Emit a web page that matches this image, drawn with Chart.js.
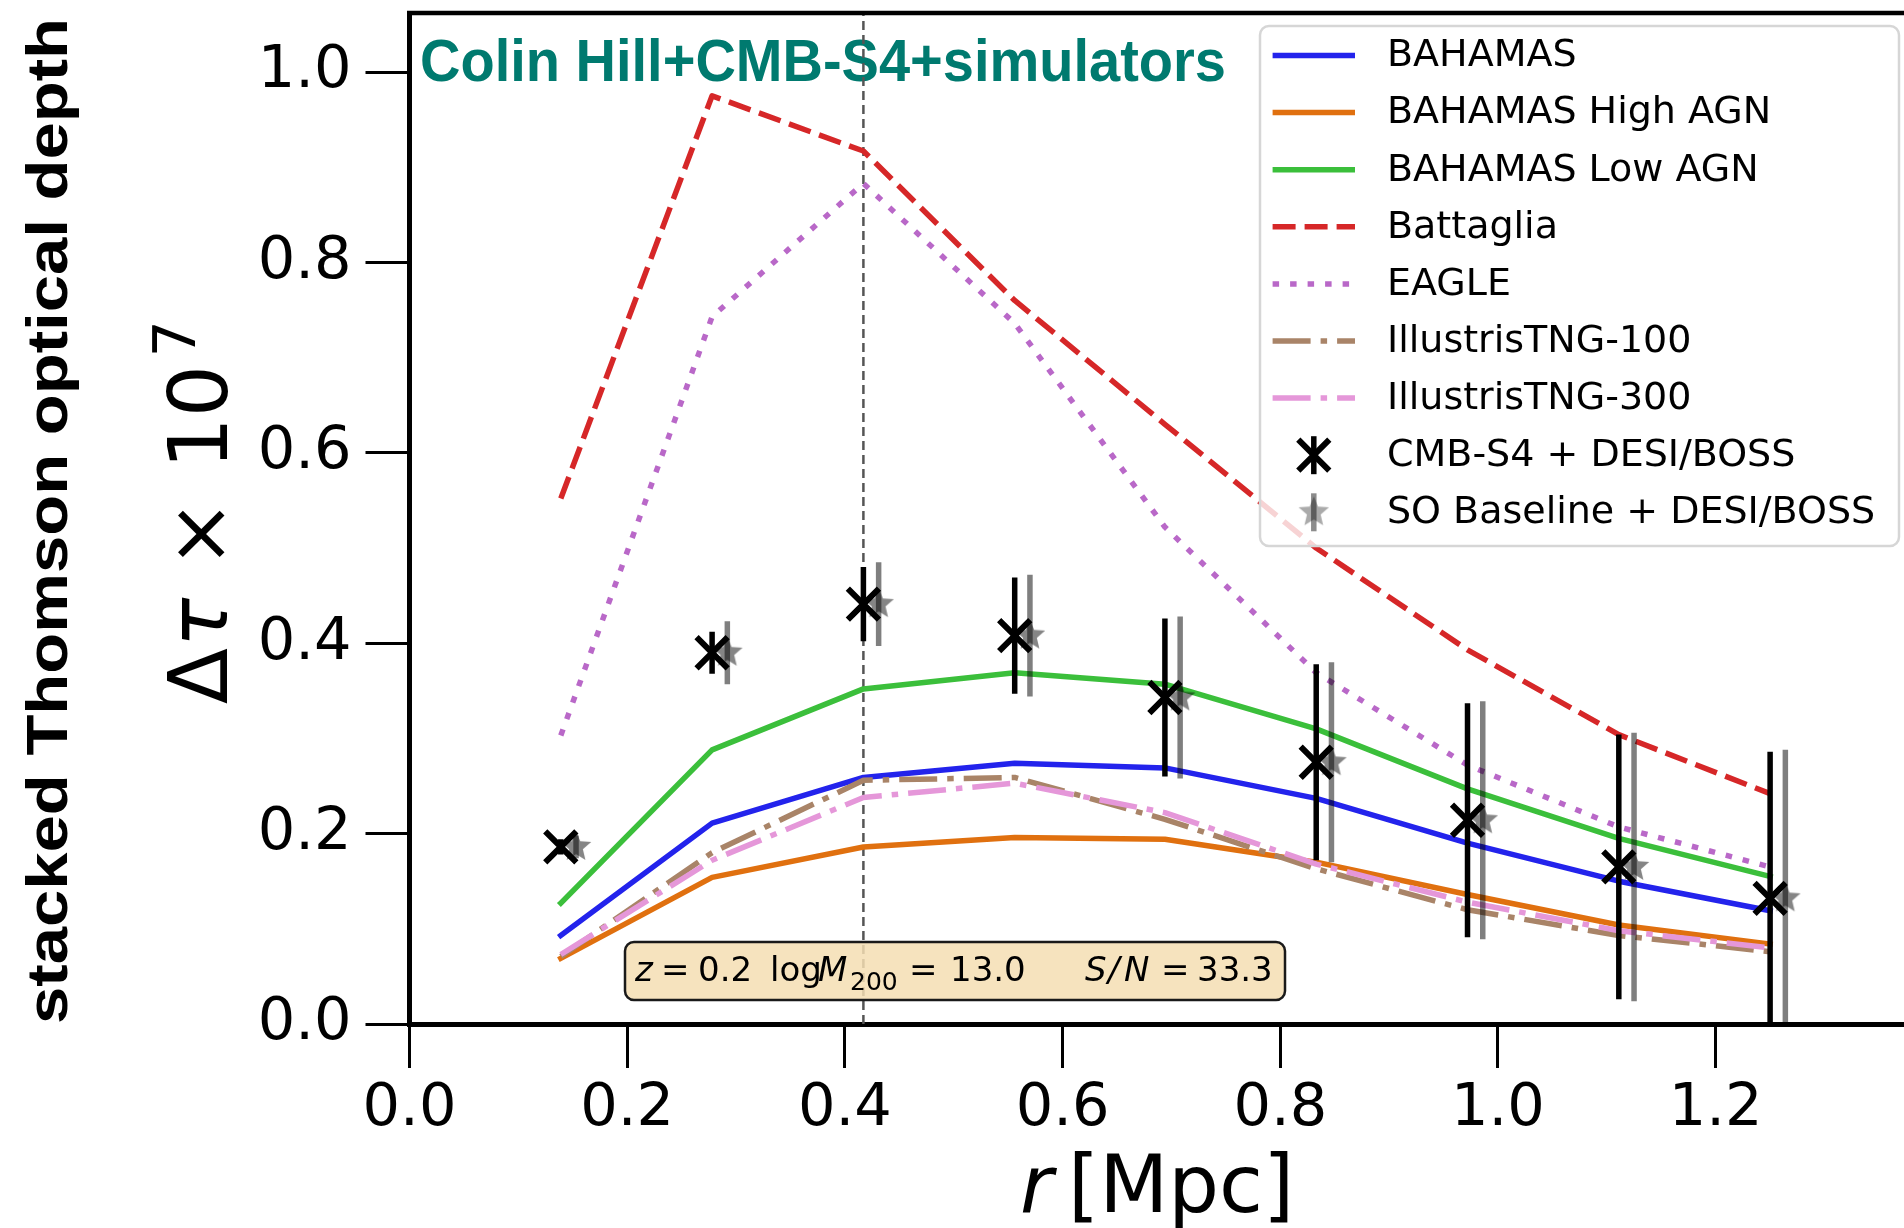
<!DOCTYPE html>
<html>
<head>
<meta charset="utf-8">
<title>Stacked Thomson optical depth</title>
<script src="https://cdn.jsdelivr.net/npm/chart.js@4.4.1/dist/chart.umd.min.js"></script>
<style>
  html, body { margin: 0; padding: 0; background: #fff; overflow: hidden; }
  canvas { display: block; }
</style>
</head>
<body>
<canvas id="tauChart" width="1904" height="1228"></canvas>
<script>
// radial bins [Mpc]
const rBins = [0.139, 0.278, 0.417, 0.556, 0.694, 0.833, 0.972, 1.111, 1.25];
const rBinsSO = [0.153, 0.292, 0.431, 0.570, 0.708, 0.847, 0.986, 1.125, 1.264];

// simulated profiles, delta tau x 1e7
const bahamas = [0.093, 0.211, 0.259, 0.274, 0.269, 0.237, 0.190, 0.150, 0.119];
const bahamasHighAGN = [0.069, 0.154, 0.186, 0.196, 0.194, 0.170, 0.136, 0.104, 0.084];
const bahamasLowAGN = [0.127, 0.288, 0.352, 0.369, 0.357, 0.310, 0.247, 0.195, 0.155];
const battaglia = [0.552, 0.975, 0.917, 0.760, 0.630, 0.500, 0.393, 0.304, 0.242];
const eagle = [0.303, 0.743, 0.883, 0.736, 0.522, 0.369, 0.272, 0.207, 0.165];
const tng100 = [0.071, 0.180, 0.256, 0.259, 0.215, 0.163, 0.120, 0.093, 0.076];
const tng300 = [0.073, 0.172, 0.238, 0.253, 0.222, 0.168, 0.128, 0.098, 0.080];

// forecast measurements
const cmbS4Tau = [0.186, 0.390, 0.441, 0.408, 0.343, 0.275, 0.214, 0.165, 0.132];
const cmbS4Err = [0.008, 0.022, 0.039, 0.061, 0.083, 0.103, 0.123, 0.139, 0.154];
const soTau = [0.186, 0.390, 0.441, 0.408, 0.343, 0.275, 0.214, 0.165, 0.132];
const soErr = [0.012, 0.033, 0.044, 0.064, 0.085, 0.105, 0.125, 0.141, 0.156];

// reference radius marker
const rMark = [0.417];

const xTicks = [0.0, 0.2, 0.4, 0.6, 0.8, 1.0, 1.2];
const yTicks = [0.0, 0.2, 0.4, 0.6, 0.8, 1.0];
const xMax = 1.373;
const yMax = 1.062;

const FONT = "'DejaVu Sans', sans-serif";
const BOLD = "'Liberation Sans', Arial, sans-serif";

const pts = (xs, ys) => xs.map((x, i) => ({ x: x, y: ys[i] }));

function starImage(r, color) {
  const size = Math.ceil(r * 2 + 4);
  const c = document.createElement('canvas');
  c.width = c.height = size;
  const g = c.getContext('2d');
  g.translate(size / 2, size / 2);
  g.beginPath();
  for (let i = 0; i < 10; i++) {
    const rad = i % 2 ? r * 0.45 : r;
    const a = -Math.PI / 2 + i * Math.PI / 5;
    g.lineTo(rad * Math.cos(a), rad * Math.sin(a));
  }
  g.closePath();
  g.fillStyle = color;
  g.fill();
  return c;
}
const star = starImage(16, 'rgba(0,0,0,0.48)');

function profile(label, values, color, dash, order) {
  return {
    label: label,
    data: pts(rBins, values),
    showLine: true,
    borderColor: color,
    backgroundColor: color,
    borderWidth: 5.5,
    borderDash: dash,
    borderCapStyle: dash.length ? 'butt' : 'square',
    borderJoinStyle: 'round',
    pointRadius: 0,
    pointHoverRadius: 0,
    tension: 0,
    order: order
  };
}

const datasets = [
  profile('BAHAMAS', bahamas, '#2323ec', [], 8),
  profile('BAHAMAS High AGN', bahamasHighAGN, '#e0700f', [], 7),
  profile('BAHAMAS Low AGN', bahamasLowAGN, '#3bbf3b', [], 6),
  profile('Battaglia', battaglia, '#d62728', [23, 9], 5),
  profile('EAGLE', eagle, '#b968c8', [6.5, 11], 4),
  profile('IllustrisTNG-100', tng100, '#a98468', [38, 10, 6.5, 10], 3),
  profile('IllustrisTNG-300', tng300, '#e597d9', [38, 10, 6.5, 10], 2),
  {
    label: 'CMB-S4 + DESI/BOSS',
    data: pts(rBins, cmbS4Tau),
    yErr: cmbS4Err,
    errColor: '#000',
    pointStyle: 'crossRot',
    pointRadius: 22,
    pointBorderWidth: 6,
    borderColor: '#000',
    backgroundColor: '#000',
    order: 0
  },
  {
    label: 'SO Baseline + DESI/BOSS',
    data: pts(rBinsSO, soTau),
    yErr: soErr,
    errColor: 'rgba(0,0,0,0.5)',
    pointStyle: star,
    pointRadius: 16,
    borderColor: 'rgba(0,0,0,0.5)',
    backgroundColor: 'rgba(0,0,0,0.5)',
    order: 1
  },
  {
    label: '',
    legend: false,
    data: [{ x: rMark[0], y: 0 }, { x: rMark[0], y: yMax }],
    showLine: true,
    borderColor: '#555',
    borderWidth: 2.5,
    borderDash: [9, 5],
    pointRadius: 0,
    order: 20
  }
];

// vertical error bars under the markers
const errorBars = {
  id: 'errorBars',
  beforeDatasetDraw(chart, args) {
    const ds = chart.data.datasets[args.index];
    if (!ds.yErr) return;
    const { ctx, chartArea: a } = chart;
    const x = chart.scales.x, y = chart.scales.y;
    ctx.save();
    ctx.beginPath();
    ctx.rect(a.left, a.top, a.right - a.left, a.bottom - a.top);
    ctx.clip();
    ctx.strokeStyle = ds.errColor;
    ctx.lineWidth = 5.5;
    ds.data.forEach((p, i) => {
      const px = x.getPixelForValue(p.x);
      ctx.beginPath();
      ctx.moveTo(px, y.getPixelForValue(p.y - ds.yErr[i]));
      ctx.lineTo(px, y.getPixelForValue(p.y + ds.yErr[i]));
      ctx.stroke();
    });
    ctx.restore();
  }
};

function fitText(ctx, text, x, y, width, angle) {
  const w = ctx.measureText(text).width;
  ctx.save();
  ctx.translate(x, y);
  ctx.rotate(angle);
  ctx.scale(width / w, 1);
  ctx.fillText(text, 0, 0);
  ctx.restore();
}

function roundRect(ctx, x, y, w, h, r) {
  ctx.beginPath();
  ctx.moveTo(x + r, y);
  ctx.arcTo(x + w, y, x + w, y + h, r);
  ctx.arcTo(x + w, y + h, x, y + h, r);
  ctx.arcTo(x, y + h, x, y, r);
  ctx.arcTo(x, y, x + w, y, r);
  ctx.closePath();
}

function drawXMarker(ctx, cx, cy) {
  ctx.save();
  ctx.strokeStyle = '#000';
  ctx.lineWidth = 5.5;
  ctx.beginPath();
  ctx.moveTo(cx, cy - 19);
  ctx.lineTo(cx, cy + 19);
  ctx.stroke();
  ctx.lineWidth = 6;
  const d = 15.5;
  ctx.beginPath();
  ctx.moveTo(cx - d, cy - d); ctx.lineTo(cx + d, cy + d);
  ctx.moveTo(cx + d, cy - d); ctx.lineTo(cx - d, cy + d);
  ctx.stroke();
  ctx.restore();
}

function drawStarMarker(ctx, cx, cy) {
  ctx.save();
  ctx.globalAlpha = 0.7;
  ctx.drawImage(star, cx - star.width / 2, cy - star.height / 2);
  ctx.globalAlpha = 1;
  ctx.strokeStyle = 'rgba(0,0,0,0.45)';
  ctx.lineWidth = 5.5;
  ctx.beginPath();
  ctx.moveTo(cx, cy - 19);
  ctx.lineTo(cx, cy + 19);
  ctx.stroke();
  ctx.restore();
}

function drawLegend(chart) {
  const ctx = chart.ctx;
  ctx.save();
  roundRect(ctx, 1260, 26, 639, 520, 9);
  ctx.fillStyle = 'rgba(255,255,255,0.8)';
  ctx.fill();
  ctx.strokeStyle = '#d6d6d6';
  ctx.lineWidth = 2.5;
  ctx.stroke();

  const rowY = 55.5, step = 57.1, hx0 = 1272.6, hx1 = 1355, tx = 1387;
  ctx.font = `38px ${FONT}`;
  ctx.textBaseline = 'middle';
  ctx.textAlign = 'left';
  let row = 0;
  chart.data.datasets.forEach(ds => {
    if (ds.legend === false) return;
    const cy = rowY + row * step;
    if (ds.showLine) {
      ctx.save();
      ctx.strokeStyle = ds.borderColor;
      ctx.lineWidth = ds.borderWidth;
      ctx.setLineDash(ds.borderDash);
      ctx.lineCap = 'butt';
      ctx.beginPath();
      ctx.moveTo(hx0, cy);
      ctx.lineTo(hx1, cy);
      ctx.stroke();
      ctx.restore();
    } else if (ds.pointStyle === 'crossRot') {
      drawXMarker(ctx, (hx0 + hx1) / 2, cy);
    } else {
      drawStarMarker(ctx, (hx0 + hx1) / 2, cy);
    }
    ctx.fillStyle = '#000';
    ctx.fillText(ds.label, tx, cy + 1);
    row++;
  });
  ctx.restore();
}

function drawInfoBox(ctx) {
  ctx.save();
  roundRect(ctx, 625, 942, 660, 58, 9);
  ctx.fillStyle = 'rgba(245,222,179,0.85)';
  ctx.fill();
  ctx.strokeStyle = '#1a1a1a';
  ctx.lineWidth = 2.5;
  ctx.stroke();

  ctx.fillStyle = '#000';
  ctx.textBaseline = 'alphabetic';
  ctx.textAlign = 'left';
  const base = 981;
  const seg = (t, x, style, size, dy) => {
    ctx.font = `${style || ''} ${size || 34}px ${FONT}`;
    ctx.fillText(t, x, base + (dy || 0));
  };
  seg('z', 635, 'italic');
  seg('=', 661);
  seg('0.2', 698);
  seg('log', 770);
  seg('M', 818, 'italic');
  seg('200', 850, '', 25, 9);
  seg('=', 909);
  seg('13.0', 950);
  seg('S', 1085, 'italic');
  seg('/', 1108, 'italic');
  seg('N', 1124, 'italic');
  seg('=', 1161);
  seg('33.3', 1197);
  ctx.restore();
}

function drawAxisTitles(ctx) {
  ctx.save();
  ctx.fillStyle = '#000';
  ctx.textBaseline = 'alphabetic';
  ctx.textAlign = 'left';

  // x title: r [Mpc]
  ctx.font = `italic 80px ${FONT}`;
  ctx.fillText('r', 1020, 1212);
  ctx.font = `80px ${FONT}`;
  ctx.fillText('[Mpc]', 1068, 1212);

  // y title: delta tau x 10^7, rotated
  ctx.save();
  ctx.translate(226.7, 703.3);
  ctx.rotate(-Math.PI / 2);
  ctx.font = `82px ${FONT}`;
  ctx.fillText('\u0394', -1, 0);
  ctx.font = `italic 82px ${FONT}`;
  ctx.fillText('\u03c4', 56, 0);
  ctx.font = `82px ${FONT}`;
  ctx.fillText('\u00d7', 135, 0);
  ctx.fillText('10', 234, 0);
  ctx.font = `58px ${FONT}`;
  ctx.fillText('7', 346, -32);
  ctx.restore();

  // outer label
  ctx.font = `bold 57px ${BOLD}`;
  fitText(ctx, 'stacked Thomson optical depth', 67, 1024, 1006, -Math.PI / 2);
  ctx.restore();
}

const decorations = {
  id: 'decorations',
  beforeDatasetsDraw(chart) {
    const ctx = chart.ctx;
    ctx.save();
    ctx.fillStyle = '#007a6f';
    ctx.textBaseline = 'alphabetic';
    ctx.font = `bold 59px ${BOLD}`;
    fitText(ctx, 'Colin Hill+CMB-S4+simulators', 420, 81, 806, 0);
    ctx.restore();
  },
  afterDatasetsDraw(chart) {
    const { ctx, chartArea: a } = chart;
    drawInfoBox(ctx);
    // top spine
    ctx.save();
    ctx.strokeStyle = '#000';
    ctx.lineWidth = 4.5;
    ctx.beginPath();
    ctx.moveTo(a.left - 2.5, a.top);
    ctx.lineTo(a.right, a.top);
    ctx.stroke();
    ctx.restore();
  },
  afterDraw(chart) {
    drawAxisTitles(chart.ctx);
    drawLegend(chart);
  }
};

const tickFont = { family: FONT, size: 59 };

new Chart(document.getElementById('tauChart'), {
  type: 'scatter',
  data: { datasets: datasets },
  options: {
    responsive: false,
    animation: false,
    events: [],
    layout: { autoPadding: false, padding: { top: 13, left: 0, right: 0, bottom: 0 } },
    plugins: {
      legend: { display: false },
      tooltip: { enabled: false }
    },
    scales: {
      x: {
        type: 'linear',
        min: 0,
        max: xMax,
        afterBuildTicks: s => { s.ticks = xTicks.map(v => ({ value: v })); },
        afterFit: s => { s.height = 204; s.paddingLeft = 0; s.paddingRight = 0; },
        ticks: {
          color: '#000', font: tickFont, padding: 6,
          maxRotation: 0, minRotation: 0, autoSkip: false,
          callback: v => v.toFixed(1)
        },
        grid: { drawOnChartArea: false, drawTicks: true, tickLength: 44, tickWidth: 3, tickColor: '#000' },
        border: { display: true, color: '#000', width: 5 }
      },
      y: {
        type: 'linear',
        min: 0,
        max: yMax,
        afterBuildTicks: s => { s.ticks = yTicks.map(v => ({ value: v })); },
        afterFit: s => { s.width = 409.5; s.paddingTop = 0; s.paddingBottom = 0; },
        ticks: {
          color: '#000', font: tickFont, padding: 14,
          autoSkip: false,
          callback: v => v.toFixed(1)
        },
        grid: { drawOnChartArea: false, drawTicks: true, tickLength: 44, tickWidth: 3, tickColor: '#000' },
        border: { display: true, color: '#000', width: 5 }
      }
    }
  },
  plugins: [errorBars, decorations]
});
</script>
</body>
</html>
